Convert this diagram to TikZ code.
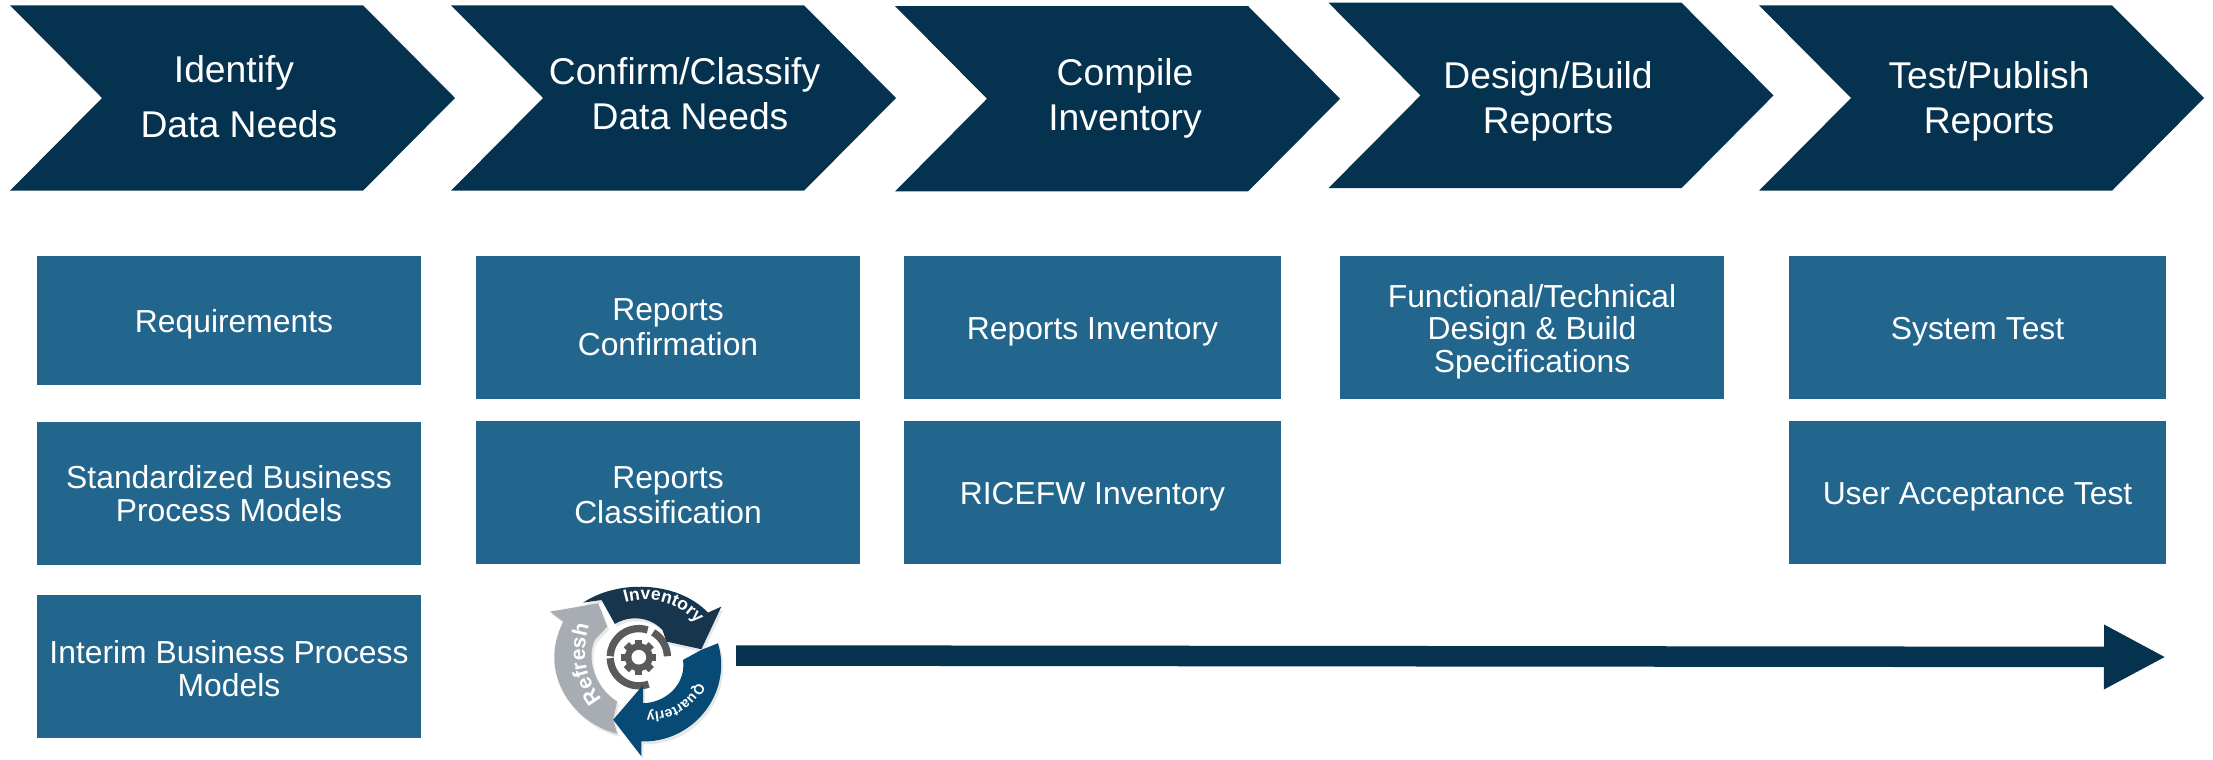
\documentclass[tikz,border=0pt]{standalone}
\usepackage{fontspec}
\setmainfont{Liberation Sans}
\usetikzlibrary{arrows.meta,decorations.text,shadows}
\definecolor{navy}{HTML}{04324F}
\definecolor{boxblue}{HTML}{23668D}
\definecolor{icondark}{HTML}{17364D}
\definecolor{iconblue}{HTML}{064A75}
\definecolor{icongrey}{HTML}{A7ADB2}
\definecolor{geargrey}{HTML}{5A5A5A}
\newcommand{\iconfont}{\bfseries\fontsize{5}{6}\selectfont\color{white}}
\newcommand{\iconfontsmall}{\bfseries\fontsize{4}{5}\selectfont\color{white}}
\newcommand{\iconfontbig}{\bfseries\fontsize{6}{7}\selectfont\color{white}}
\begin{document}
\begin{tikzpicture}[x=.01cm,y=-.01cm]
    \tikzstyle{chevlabel}=[text=white,align=center,inner sep=0pt,font=\fontsize{10.6}{12.8}\selectfont]
    \tikzstyle{taskbox}=[fill=boxblue,text=white,align=center,inner sep=0pt,font=\fontsize{9.05}{10}\selectfont]
    \tikzstyle{oneline}=[text height=.307cm,text depth=.067cm]
    \tikzstyle{bigarrow}=[navy,line width=.205cm,-{Triangle[length=.62cm,width=.6cm]}]
    \tikzstyle{iconshadow}=[drop shadow={opacity=.18,shadow xshift=.02cm,shadow yshift=-.03cm}]
    \useasboundingbox (0,0) rectangle (2213,759);

    % chevrons
    \foreach \num/\l/\t/\tx/\ty/\txt in {1/10/5.3/239/97/{Identify\hspace*{.1cm}\\[2.9pt]Data Needs},
        2/451/5.3/690/94/{Confirm/Classify\hspace*{.11cm}\\Data Needs}, 3/895/6/1125/98/{Compile\\Inventory},
        4/1328.5/2.7/1548/101/{Design/Build\\Reports}, 5/1759/5.3/1989/101/{Test/Publish\\Reports}} {
            \fill[navy] (\l,\t) -- ({\l+353},\t) -- ({\l+445},{\t+92.7}) -- ({\l+353},{\t+185.4})
                -- (\l,{\t+185.4}) -- ({\l+92},{\t+92.7}) -- cycle;
            \node[chevlabel] (C-\num) at (\tx,\ty) {\txt};
    }

    % boxes with one line
    \foreach \num/\x/\y/\w/\h/\txt in {1/229/320.5/384/129/{\hspace{.1cm}Requirements},
        6/1092.5/327.5/377/143/{Reports Inventory}, 7/1092.5/492.5/377/143/{RICEFW Inventory},
        9/1977.5/327.5/377/143/{System Test}, 10/1977.5/492.5/377/143/{User Acceptance Test}}
            \node[taskbox,oneline,minimum width=\w*.01cm,minimum height=\h*.01cm] (B-\num) at (\x,\y) {\txt};

    % boxes with more lines
    \foreach \num/\x/\y/\w/\h/\txt in {2/229/493.5/384/143/{Standardized Business\\[-.75pt]Process Models},
        3/229/666.5/384/143/{\rule{0pt}{.27cm}Interim Business Process\\[-.75pt]Models},
        4/668/327.5/384/143/{Reports\\Confirmation}, 5/668/492.5/384/143/{\rule{0pt}{.27cm}Reports\\Classification},
        8/1532/327.5/384/143/{\rule{0pt}{.31cm}Functional/Technical\\[-.75pt]Design \& Build\\[-.75pt]Specifications}}
            \node[taskbox,minimum width=\w*.01cm,minimum height=\h*.01cm] (B-\num) at (\x,\y) {\txt};

    % long arrow
    \coordinate (A-start) at (736,655.5);
    \coordinate (A-end) at (2166,657);
    \draw[bigarrow] (A-start) -- (A-end);

    % cycle icon, numbers are 3x pixels from the corner of the icon
    \begin{scope}[shift={(520,560)},x=.00333cm,y=-.00333cm]
        \begin{scope}[shift={(357,292)},y=.00333cm]
            \foreach \a/\b in {72/178, 182/290, 2/60}
                \draw[geargrey,line width=.073cm] (\a:86) arc (\a:\b:86);
            \foreach \r in {0,45,...,315}
                \fill[geargrey,rotate=\r] (-11,30) rectangle (11,53);
            \fill[geargrey] (0,0) circle (42);
            \fill[white] (0,0) circle (22);
        \end{scope}

        \fill[icongrey,iconshadow] (90,155) -- (235,130) -- (262,200) -- (225,240)
            .. controls (200,290) and (220,380) .. (292,425) -- (280,480) -- (292,522)
            .. controls (160,490) and (50,340) .. (130,185) -- cycle;
        \fill[icondark,iconshadow] (190,128) .. controls (290,60) and (470,60) .. (565,158)
            -- (605,140) -- (545,268) -- (440,245) -- (428,210) .. controls (390,170) and (330,165) .. (285,192)
            -- (245,120) -- cycle;
        \fill[iconblue,iconshadow] (595,250) .. controls (640,400) and (520,550) .. (365,545)
            -- (365,590) -- (280,480) -- (370,375) -- (370,430)
            .. controls (430,430) and (500,380) .. (490,300) -- (545,270) -- cycle;

        \path[decorate,decoration={text along path,text={|\iconfont|Inventory},text align=center}]
            (318,128) .. controls (400,105) and (480,130) .. (530,190);
        \path[decorate,decoration={text along path,text={|\iconfontsmall|Quarterly},text align=center}]
            (540,355) .. controls (515,415) and (460,465) .. (365,458);
        \path[decorate,decoration={text along path,text={|\iconfontbig|Refresh},text align=center}]
            (240,410) .. controls (195,350) and (185,280) .. (205,205);
    \end{scope}
\end{tikzpicture}
\end{document}
